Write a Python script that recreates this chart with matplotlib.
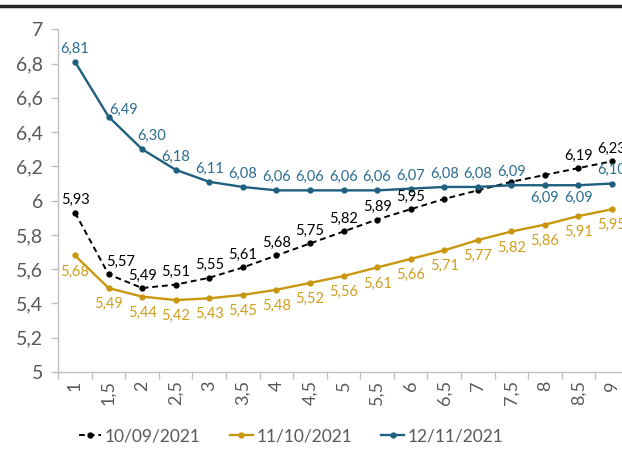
import matplotlib
matplotlib.use("Agg")
import matplotlib.pyplot as plt
from matplotlib.lines import Line2D

plt.rcParams['font.family'] = ['Lato', 'DejaVu Sans']

# Maturities (years) and yield curves
maturities = [1, 1.5, 2, 2.5, 3, 3.5, 4, 4.5, 5, 5.5, 6, 6.5, 7, 7.5, 8, 8.5, 9]
tick_labels = [str(m).replace('.', ',') for m in maturities]

sep_2021 = [5.93, 5.57, 5.49, 5.51, 5.55, 5.61, 5.68, 5.75, 5.82, 5.89, 5.95,
            6.01, 6.06, 6.11, 6.15, 6.19, 6.23]
oct_2021 = [5.68, 5.49, 5.44, 5.42, 5.43, 5.45, 5.48, 5.52, 5.56, 5.61, 5.66,
            5.71, 5.77, 5.82, 5.86, 5.91, 5.95]
nov_2021 = [6.81, 6.49, 6.30, 6.18, 6.11, 6.08, 6.06, 6.06, 6.06, 6.06, 6.07,
            6.08, 6.08, 6.09, 6.09, 6.09, 6.10]

series_names = ["10/09/2021", "11/10/2021", "12/11/2021"]

c_black = "#000000"
c_gold = "#C9970E"
c_blue = "#1F5F7F"
c_gold_txt = "#D09E1E"
c_blue_txt = "#2A6D8F"

fig = plt.figure(figsize=(6.22, 4.5), dpi=100)
ax = fig.add_axes([0.0936, 0.1733, 0.9174, 0.7616])

x = list(range(len(maturities)))
ax.plot(x, sep_2021, color=c_black, lw=1.4, ls=(0, (3, 2)), marker='o', ms=3.5,
        label=series_names[0], clip_on=False)
ax.plot(x, oct_2021, color=c_gold, lw=1.7, marker='o', ms=3.5,
        label=series_names[1], clip_on=False)
ax.plot(x, nov_2021, color=c_blue, lw=1.7, marker='o', ms=3.5,
        label=series_names[2], clip_on=False)


def fmt(v):
    return f"{v:.2f}".replace('.', ',')


# data labels
for i, v in enumerate(sep_2021):
    if 11 <= i <= 14:
        continue
    dx = 9 if i == 1 else 0
    ax.annotate(fmt(v), (i, v), xytext=(dx, 9), textcoords='offset points',
                ha='center', va='center', fontsize=10.5, color=c_black,
                annotation_clip=False)

for i, v in enumerate(oct_2021):
    ax.annotate(fmt(v), (i, v), xytext=(0, -11.5), textcoords='offset points',
                ha='center', va='center', fontsize=10.5, color=c_gold_txt,
                annotation_clip=False)

blue_dx = {1: 11, 2: 7}
for i, v in enumerate(nov_2021):
    if i in (14, 15):
        off = (0, -9)
    elif i == 1:
        off = (11, 5)
    else:
        off = (blue_dx.get(i, 0), 9.5)
    ax.annotate(fmt(v), (i, v), xytext=off, textcoords='offset points',
                ha='center', va='center', fontsize=10.5, color=c_blue_txt,
                annotation_clip=False)

ax.set_xlim(-0.5, len(maturities) - 0.5)
ax.set_ylim(5, 7)

yt = [5, 5.2, 5.4, 5.6, 5.8, 6, 6.2, 6.4, 6.6, 6.8, 7]
ax.set_yticks(yt)
ax.set_yticklabels([f"{t:g}".replace('.', ',') for t in yt])
ax.set_xticks(x)
ax.set_xticklabels(tick_labels, rotation=90)
ax.set_xticks([i - 0.5 for i in range(len(maturities) + 1)], minor=True)

ax.tick_params(axis='x', which='major', length=0, pad=6, labelsize=13,
               labelcolor='#595959')
ax.tick_params(axis='x', which='minor', length=5, color='#BFBFBF', width=1)
ax.tick_params(axis='y', which='major', length=5, color='#BFBFBF', width=1,
               labelsize=14, labelcolor='#595959', pad=6)

for s in ('top', 'right'):
    ax.spines[s].set_visible(False)
for s in ('left', 'bottom'):
    ax.spines[s].set_color('#BFBFBF')
    ax.spines[s].set_linewidth(1)

ax.legend(loc='center', bbox_to_anchor=(291 / 622, 0.031),
          bbox_transform=fig.transFigure, ncol=3, frameon=False,
          fontsize=12.5, handlelength=1.3, handletextpad=0.2,
          columnspacing=1.7, labelcolor='#595959')

# dark border along the top
fig.add_artist(Line2D([0, 1], [1 - 5.5 / 450, 1 - 5.5 / 450],
                      transform=fig.transFigure, color='#262626', lw=2.5))

fig.savefig("out.png", dpi=100)
